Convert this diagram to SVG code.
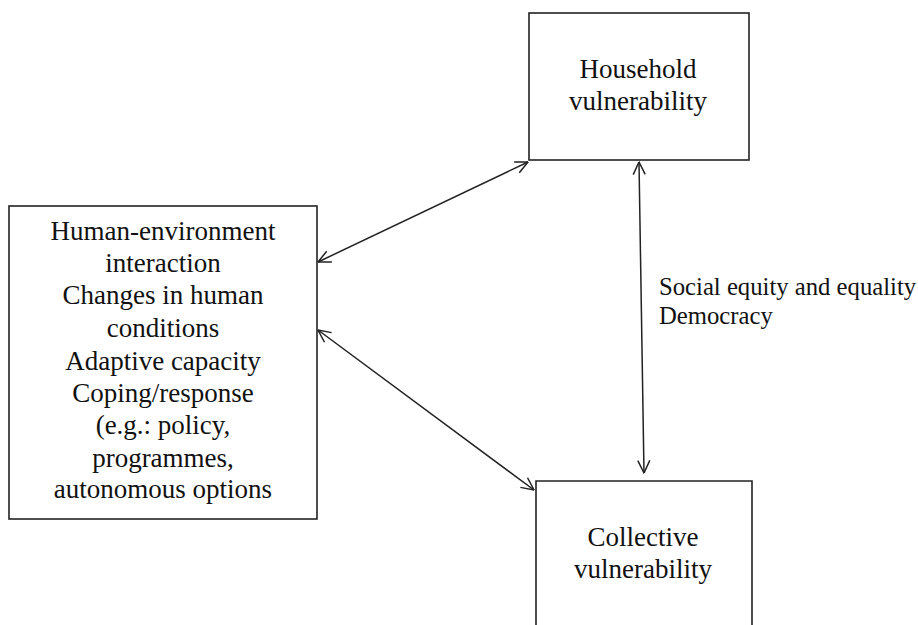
<svg xmlns="http://www.w3.org/2000/svg" width="918" height="625" viewBox="0 0 918 625">
<style>
.box{fill:#fff;stroke:#222;stroke-width:1.6}
.t{font-family:"Liberation Serif","Times New Roman",serif;fill:#111;text-anchor:middle;font-size:27px}
.lbl{font-family:"Liberation Serif","Times New Roman",serif;fill:#111;font-size:24.7px}
.c{fill:none;stroke:#222;stroke-width:1.5}
</style>
<defs>
<marker id="ah" viewBox="0 0 14 14" refX="13.5" refY="7" markerWidth="14" markerHeight="14" markerUnits="userSpaceOnUse" orient="auto-start-reverse">
<path d="M1,1 L13.5,7 L1,13" fill="none" stroke="#222" stroke-width="1.5"/>
</marker>
</defs>
<rect width="918" height="625" fill="#fff"/>
<g id="household">
<rect class="box" x="529" y="13" width="220" height="147"/>
<text class="t" x="638" y="78">Household</text>
<text class="t" x="638" y="110">vulnerability</text>
</g>
<g id="human-environment">
<rect class="box" x="9" y="206" width="308" height="313"/>
<text class="t" x="163" y="240">Human-environment</text>
<text class="t" x="163" y="272">interaction</text>
<text class="t" x="163" y="304">Changes in human</text>
<text class="t" x="163" y="337">conditions</text>
<text class="t" x="163" y="370">Adaptive capacity</text>
<text class="t" x="163" y="402">Coping/response</text>
<text class="t" x="163" y="434">(e.g.: policy,</text>
<text class="t" x="163" y="467">programmes,</text>
<text class="t" x="163" y="498">autonomous options</text>
</g>
<g id="collective">
<path class="box" d="M536,626 L536,481 L752,481 L752,626"/>
<text class="t" x="643" y="546">Collective</text>
<text class="t" x="643" y="578">vulnerability</text>
</g>
<g id="connectors">
<line class="c" x1="318" y1="262" x2="528" y2="162" marker-start="url(#ah)" marker-end="url(#ah)"/>
<line class="c" x1="318" y1="330" x2="534" y2="490" marker-start="url(#ah)" marker-end="url(#ah)"/>
<line class="c" x1="639" y1="162" x2="644" y2="473" marker-start="url(#ah)" marker-end="url(#ah)"/>
<text class="lbl" x="659" y="295">Social equity and equality</text>
<text class="lbl" x="659" y="324">Democracy</text>
</g>
</svg>
